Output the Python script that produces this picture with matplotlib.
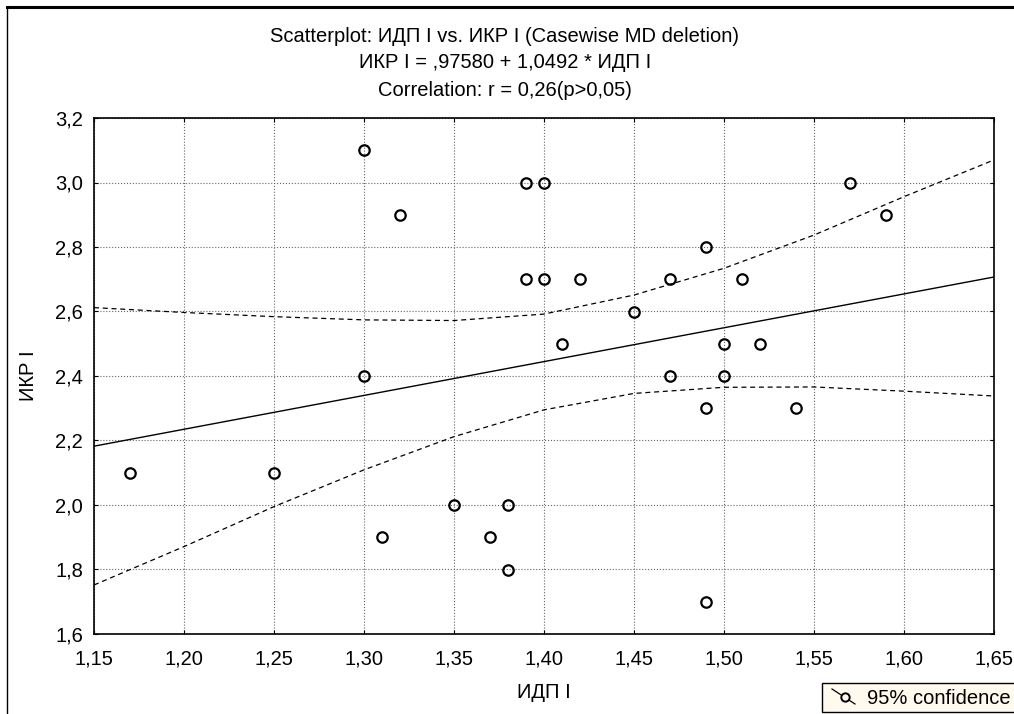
import numpy as np
import matplotlib
matplotlib.use('Agg')
import matplotlib.pyplot as plt
from matplotlib.ticker import FuncFormatter, MultipleLocator
from matplotlib.lines import Line2D
from matplotlib.patches import Rectangle

plt.rcParams['font.family'] = ['Liberation Sans', 'DejaVu Sans']

# scatter data
idp = [1.17, 1.25, 1.30, 1.30, 1.31, 1.32, 1.35, 1.37, 1.38, 1.38,
       1.39, 1.40, 1.39, 1.40, 1.41, 1.42, 1.45, 1.47, 1.47, 1.49,
       1.49, 1.49, 1.50, 1.50, 1.51, 1.52, 1.54, 1.57, 1.59]
ikr = [2.1, 2.1, 3.1, 2.4, 1.9, 2.9, 2.0, 1.9, 2.0, 1.8,
       3.0, 3.0, 2.7, 2.7, 2.5, 2.7, 2.6, 2.7, 2.4, 2.8,
       2.3, 1.7, 2.5, 2.4, 2.7, 2.5, 2.3, 3.0, 2.9]

# regression from the title
intercept = 0.97580
slope = 1.0492

# 95% confidence band, read at the grid lines
band_x = [1.15, 1.20, 1.25, 1.30, 1.35, 1.40, 1.45, 1.50, 1.55, 1.60, 1.65]
band_hi = [2.612, 2.597, 2.584, 2.574, 2.572, 2.592, 2.651, 2.734, 2.837, 2.956, 3.070]
band_lo = [1.752, 1.871, 1.995, 2.109, 2.212, 2.295, 2.346, 2.365, 2.366, 2.353, 2.338]

fs = 14.5

fig = plt.figure(figsize=(10.14, 7.14), dpi=100)
ax = fig.add_axes([94/1014, 1-634/714, 900/1014, 516/714])

xl = np.array([1.15, 1.65])
ax.plot(xl, intercept + slope*xl, color='black', lw=1.0)
ax.plot(band_x, band_hi, color='black', lw=0.9, ls=(0, (4, 3)))
ax.plot(band_x, band_lo, color='black', lw=0.9, ls=(0, (4, 3)))
ax.plot(idp, ikr, 'o', ms=7.5, mfc='none', mec='black', mew=1.6)

ax.set_xlim(1.15, 1.65)
ax.set_ylim(1.6, 3.2)
ax.xaxis.set_major_locator(MultipleLocator(0.05))
ax.yaxis.set_major_locator(MultipleLocator(0.2))
ax.xaxis.set_major_formatter(FuncFormatter(lambda v, p: ('%.2f' % v).replace('.', ',')))
ax.yaxis.set_major_formatter(FuncFormatter(lambda v, p: ('%.1f' % v).replace('.', ',')))
ax.grid(True, color='#666666', ls=':', lw=0.8)
ax.tick_params(direction='in', length=3, labelsize=fs, top=True, right=True)
ax.tick_params(axis='x', pad=11)
ax.tick_params(axis='y', pad=8)
for s in ax.spines.values():
    s.set_linewidth(1.2)

# titles
fig.text(505/1014, 1-37/714, 'Scatterplot: ИДП I vs. ИКР I (Casewise MD deletion)', ha='center', va='center', fontsize=fs)
fig.text(505/1014, 1-63/714, 'ИКР I = ,97580 + 1,0492 * ИДП I', ha='center', va='center', fontsize=fs)
fig.text(505/1014, 1-90/714, 'Correlation: r = 0,26(p>0,05)', ha='center', va='center', fontsize=fs)

fig.text(544/1014, 1-692/714, 'ИДП I', ha='center', va='center', fontsize=fs)
fig.text(29/1014, 1-376/714, 'ИКР I', ha='center', va='center', fontsize=fs, rotation=90)

# outer frame
fig.add_artist(Line2D([7/1014, 1.0], [1-6.5/714, 1-6.5/714], transform=fig.transFigure, color='black', lw=2.2))
fig.add_artist(Line2D([7/1014, 7/1014], [0, 1-6.5/714], transform=fig.transFigure, color='black', lw=1.0))

# legend box (cut at the right edge)
fig.add_artist(Rectangle((822/1014, 1-712/714), 220/1014, 29/714, transform=fig.transFigure,
                         facecolor='#fffaee', edgecolor='black', lw=1.0))
fig.add_artist(Line2D([832/1014, 855/1014], [1-689/714, 1-704/714], transform=fig.transFigure, color='black', lw=0.9))
fig.add_artist(Line2D([845/1014], [1-697/714], transform=fig.transFigure, marker='o', ms=6,
                      mfc='#fffaee', mec='black', mew=1.4))
fig.text(867/1014, 1-698/714, '95% confidence', ha='left', va='center', fontsize=fs)

fig.savefig('out.png', dpi=100)
